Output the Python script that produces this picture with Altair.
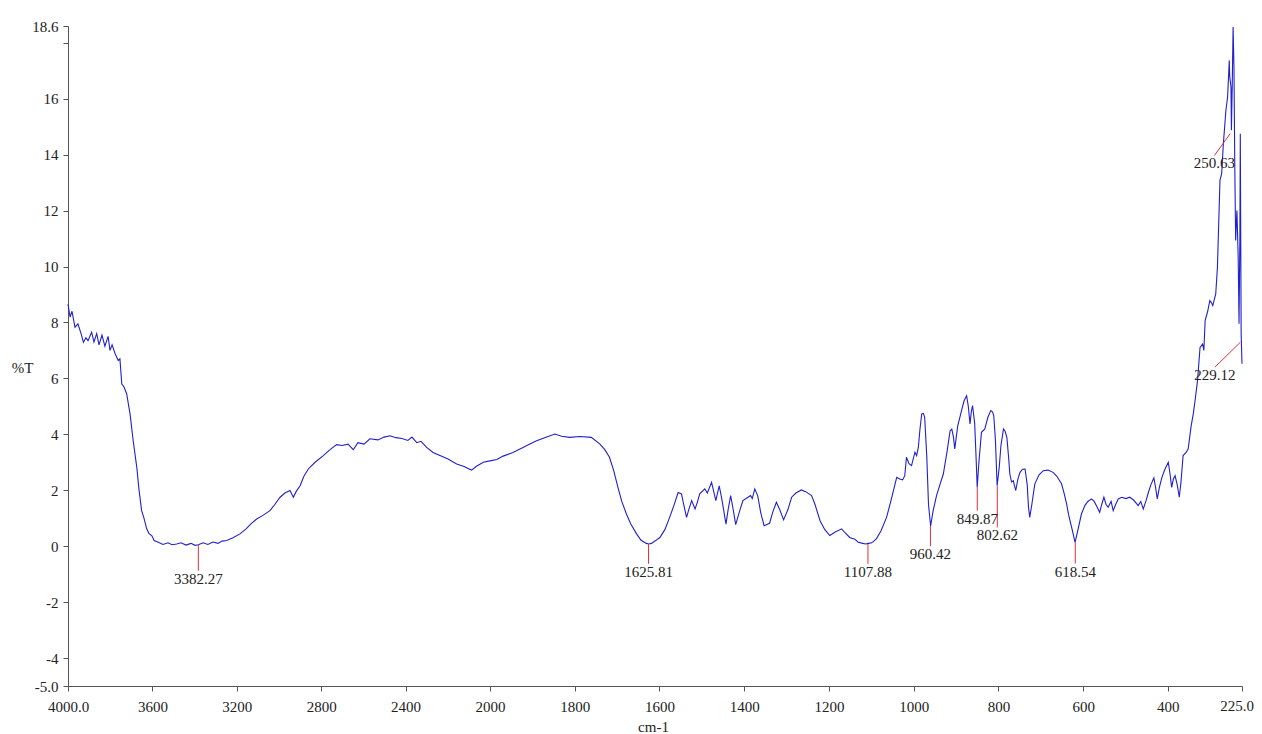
import altair as alt
import pandas as pd

# ---- spectrum (wavenumber cm-1, %T) ----
wn = [4000, 3990, 3981, 3967, 3953, 3938, 3927, 3915, 3905, 3888, 3877, 3864, 3853, 3839, 3825,
      3810, 3801, 3791, 3777, 3762, 3754, 3745, 3735, 3722, 3706, 3691, 3674, 3664, 3651, 3640,
      3627, 3616, 3603, 3592, 3572, 3550, 3526, 3507, 3485, 3464, 3441, 3417, 3398, 3382, 3360,
      3337, 3313, 3289, 3270, 3248, 3218, 3185, 3156, 3133, 3106, 3076, 3043, 3019, 2995, 2972,
      2948, 2932, 2919, 2900, 2882, 2861, 2829, 2790, 2758, 2727, 2701, 2673, 2648, 2626, 2597,
      2569, 2531, 2502, 2474, 2446, 2417, 2389, 2370, 2347, 2327, 2300, 2270, 2237, 2199, 2158,
      2123, 2104, 2087, 2066, 2032, 2000,
      1984, 1969, 1946, 1922, 1906, 1890, 1871, 1847, 1831, 1812, 1788, 1761, 1741, 1729, 1718,
      1708, 1698, 1689, 1678, 1668, 1654, 1644, 1631, 1625, 1619, 1609, 1599, 1587, 1576, 1566,
      1556, 1548, 1543, 1536, 1531, 1524, 1516, 1511, 1505, 1493, 1487, 1477, 1467, 1459, 1453,
      1443, 1438, 1432, 1427, 1420, 1410, 1403, 1391, 1385, 1381, 1375, 1368, 1361, 1353, 1340,
      1333, 1324, 1316, 1307, 1297, 1288, 1278, 1265, 1255, 1241, 1233, 1221, 1210, 1198, 1186,
      1170, 1162, 1151, 1139, 1131, 1120, 1113, 1107, 1099, 1088, 1077, 1064, 1054, 1040, 1033,
      1026, 1021, 1017, 1011, 1005, 997, 993, 989, 985, 981, 977, 974, 969, 965, 960,
      954, 946, 938, 930, 921, 914, 910, 906, 903, 896, 887, 881, 875, 871, 867,
      864, 861, 856, 853, 850, 846, 840, 832, 825, 818, 814, 811, 807, 803, 798,
      794, 788, 784, 780, 776, 773, 769, 765, 759, 754, 749, 743, 737, 732, 729,
      726, 721, 714, 704, 694, 683, 671, 662, 651, 645, 639, 634, 626, 619, 612,
      604, 596, 589, 580, 574, 567, 561, 556, 551, 546, 541, 534, 529, 523, 517,
      509, 499, 490, 481, 470, 464, 458, 452, 446, 440, 433, 429, 425, 420, 414,
      407, 399, 395, 391, 387, 383, 378, 373, 369, 364, 357, 352, 345, 340, 335,
      330, 324, 318, 315, 312, 306, 301, 297, 294, 287, 283, 280, 277, 273, 269,
      263, 259, 255, 254, 251, 250, 248, 246, 244, 242, 240, 237, 234, 232, 230,
      229, 227, 225]
pt = [8.65, 8.19, 8.40, 7.83, 7.95, 7.60, 7.29, 7.45, 7.35, 7.65, 7.30, 7.60, 7.20, 7.55, 7.15,
      7.50, 7.00, 7.20, 6.89, 6.64, 6.70, 5.80, 5.70, 5.45, 4.73, 3.77, 2.82, 2.05, 1.27, 1.00,
      0.62, 0.45, 0.38, 0.20, 0.14, 0.06, 0.12, 0.05, 0.08, 0.12, 0.04, 0.10, 0.03, 0.05, 0.12,
      0.06, 0.15, 0.10, 0.18, 0.20, 0.30, 0.44, 0.62, 0.80, 0.97, 1.10, 1.27, 1.50, 1.75, 1.90,
      1.99, 1.75, 1.95, 2.16, 2.50, 2.76, 3.00, 3.24, 3.45, 3.63, 3.60, 3.65, 3.45, 3.70, 3.65,
      3.84, 3.80, 3.90, 3.95, 3.88, 3.85, 3.78, 3.90, 3.70, 3.75, 3.53, 3.35, 3.24, 3.12, 2.94,
      2.85, 2.78, 2.72, 2.85, 3.00, 3.05,
      3.10, 3.22, 3.35, 3.53, 3.65, 3.77, 3.88, 4.01, 3.93, 3.89, 3.92, 3.89, 3.66, 3.45, 3.18,
      2.70, 2.10, 1.60, 1.15, 0.80, 0.44, 0.22, 0.10, 0.08, 0.10, 0.20, 0.31, 0.60, 1.03, 1.45,
      1.92, 1.87, 1.50, 1.03, 1.30, 1.63, 1.33, 1.55, 1.87, 2.05, 1.90, 2.28, 1.63, 2.16, 1.70,
      0.79, 1.30, 1.81, 1.40, 0.77, 1.30, 1.63, 1.75, 1.81, 1.70, 2.05, 1.80, 1.20, 0.73, 0.82,
      1.20, 1.57, 1.30, 0.94, 1.30, 1.75, 1.90, 2.01, 1.95, 1.81, 1.50, 0.91, 0.60, 0.38, 0.50,
      0.62, 0.48, 0.31, 0.25, 0.14, 0.10, 0.08, 0.10, 0.12, 0.26, 0.55, 1.03, 1.60, 2.46, 2.40,
      2.37, 2.52, 3.18, 2.95, 2.88, 3.36, 3.24, 3.53, 4.20, 4.73, 4.75, 4.61, 3.20, 1.50, 0.72,
      1.27, 1.81, 2.20, 2.58, 3.40, 4.13, 4.19, 3.90, 3.48, 4.30, 4.85, 5.20, 5.38, 5.00, 4.37,
      4.80, 5.03, 4.40, 3.30, 2.10, 3.00, 4.07, 4.19, 4.60, 4.85, 4.80, 4.67, 3.80, 2.16, 2.82,
      3.60, 4.19, 4.10, 3.89, 3.20, 2.58, 2.30, 2.34, 1.99, 2.40, 2.64, 2.75, 2.76, 2.20, 1.40,
      1.03, 1.50, 2.23, 2.55, 2.70, 2.72, 2.64, 2.50, 2.23, 1.90, 1.51, 1.10, 0.60, 0.14, 0.60,
      1.15, 1.45, 1.60, 1.69, 1.60, 1.40, 1.21, 1.50, 1.75, 1.50, 1.39, 1.60, 1.27, 1.50, 1.69,
      1.75, 1.70, 1.75, 1.65, 1.45, 1.60, 1.33, 1.60, 1.92, 2.20, 2.44, 2.10, 1.69, 2.10, 2.46,
      2.75, 3.00, 2.60, 2.10, 2.40, 2.52, 2.20, 1.75, 2.30, 3.24, 3.35, 3.48, 4.30, 4.73, 5.30,
      5.92, 7.11, 7.23, 7.00, 8.07, 8.40, 8.78, 8.70, 8.60, 9.02, 9.97, 11.53, 13.08, 13.32, 14.39,
      15.58, 16.06, 17.37, 16.80, 16.42, 14.87, 16.50, 18.56, 17.13, 13.55, 10.93, 12.00, 10.33, 7.95, 11.00,
      14.75, 7.59, 6.52]

# ---- labelled peaks ----
peak_label = ["3382.27", "1625.81", "1107.88", "960.42", "849.87", "802.62", "618.54", "250.63", "229.12"]
peak_wn = [3382.27, 1625.81, 1107.88, 960.42, 849.87, 802.62, 618.54, 253, 229]
peak_t = [0.05, 0.08, 0.08, 0.72, 2.10, 2.16, 0.14, 14.75, 7.29]
mark_end_wn = [3382.27, 1625.81, 1107.88, 960.42, 849.87, 802.62, 618.54, 290, 289]
mark_end_t = [-0.88, -0.63, -0.63, 0.0, 1.27, 0.67, -0.62, 13.97, 6.40]

# ---- axis ticks ----
x_ticks = [4000, 3600, 3200, 2800, 2400, 2000, 1800, 1600, 1400, 1200, 1000, 800, 600, 400, 225]
y_ticks = [-5, -4, -2, 0, 2, 4, 6, 8, 10, 12, 14, 16, 18, 18.6]
x_end_label = ["225.0"]
x_end_value = [225]
y_floor = [-5]

spec = pd.DataFrame({"wn": wn, "t": pt, "i": list(range(len(wn)))})
peaks = pd.DataFrame({"label": peak_label, "wn": peak_wn, "t": peak_t,
                      "wn2": mark_end_wn, "t2": mark_end_t})
endlab = pd.DataFrame({"label": x_end_label, "wn": x_end_value, "t": y_floor})

FONT = "Liberation Serif"
xscale = alt.Scale(domain=[4000, 2000, 225], range=[0, 422, 1174], nice=False, zero=False)
yscale = alt.Scale(domain=[-5, 18.6], nice=False, zero=False)

xaxis = alt.Axis(values=x_ticks, format="d",
                 labelExpr="datum.value == 4000 ? '4000.0' : datum.value == 225 ? '' : '' + datum.value",
                 title="cm-1", titleFont=FONT, titleFontSize=15, titleFontWeight="normal",
                 titleColor="#222", titleBaseline="middle", titleY=40, titleX=585,
                 labelFont=FONT, labelFontSize=15, labelColor="#222", labelPadding=8,
                 labelFlush=False, labelOverlap=False,
                 tickSize=5, tickColor="#555", domainColor="#555", grid=False)
yaxis = alt.Axis(values=y_ticks,
                 labelExpr="datum.value == 18 ? '' : datum.value == -5 ? '-5.0' : '' + datum.value",
                 title="%T", titleAngle=0, titleAlign="center", titleBaseline="middle",
                 titleX=-46, titleY=341, titleFont=FONT, titleFontSize=15, titleFontWeight="normal",
                 titleColor="#222",
                 labelFont=FONT, labelFontSize=15, labelColor="#222", labelPadding=5,
                 labelFlush=False, labelOverlap=False,
                 tickSize=5, tickColor="#555", domainColor="#555", grid=False)

line = alt.Chart(spec).mark_line(color="#2020cc", strokeWidth=1.1).encode(
    x=alt.X("wn:Q", scale=xscale, axis=xaxis),
    y=alt.Y("t:Q", scale=yscale, axis=yaxis),
    order="i:Q",
)

rules = alt.Chart(peaks).mark_rule(color="#e0303a", strokeWidth=1).encode(
    x=alt.X("wn:Q", scale=xscale),
    y=alt.Y("t:Q", scale=yscale),
    x2="wn2:Q",
    y2="t2:Q",
)

labels = alt.Chart(peaks).mark_text(font=FONT, fontSize=15, color="#222",
                                    baseline="top", align="center", dy=1).encode(
    x=alt.X("wn2:Q", scale=xscale),
    y=alt.Y("t2:Q", scale=yscale),
    text="label:N",
)

# last x tick label, nudged left so it stays inside the page
end_label = alt.Chart(endlab).mark_text(font=FONT, fontSize=15, color="#222",
                                        baseline="top", align="right", dx=12, dy=13).encode(
    x=alt.X("wn:Q", scale=xscale),
    y=alt.Y("t:Q", scale=yscale),
    text="label:N",
)

chart = alt.layer(line, rules, labels, end_label).properties(
    width=1174, height=660,
    padding={"left": 60, "top": 18, "right": 12, "bottom": 48},
    autosize=alt.AutoSizeParams(type="none"),
    background="white",
).configure_view(stroke=None)

chart.save("out.html", embed_options={"renderer": "svg", "actions": False})
